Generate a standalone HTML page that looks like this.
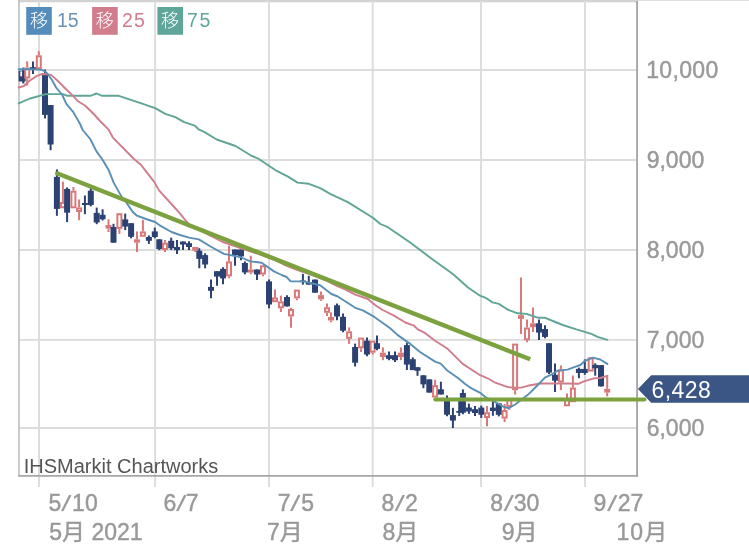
<!DOCTYPE html>
<html lang="ja">
<head>
<meta charset="utf-8">
<title>Chart</title>
<style>
html,body{margin:0;padding:0;background:#fff;}
body{width:749px;height:548px;overflow:hidden;font-family:"Liberation Sans","Noto Sans CJK JP",sans-serif;}
svg{display:block;}
text{font-family:"Liberation Sans","Noto Sans CJK JP",sans-serif;}
.ax{font-size:23px;fill:#999;stroke:#999;stroke-width:0.45px;}
.g{stroke:#dcdcdc;stroke-width:1.9;fill:none;}
</style>
</head>
<body>
<svg width="749" height="548" viewBox="0 0 749 548">
<rect x="0" y="0" width="749" height="548" fill="#fff"/>
<!-- top border -->
<rect x="18.2" y="0" width="619.8" height="2.3" fill="#d3d3d3"/>
<rect x="638" y="0" width="111" height="0.9" fill="#dcdcdc"/>
<!-- grid -->
<g class="g">
<path d="M19 70H637M19 160H637M19 250H637M19 339.9H637M19 428H637"/>
<path d="M39 1V487M155.1 1V487M269 1V487M372.7 1V487M481 1V487M585 1V487"/>
</g>
<!-- GRIDEND -->
<!-- axes -->
<path d="M19 0V475.8" stroke="#c2c2c2" stroke-width="1.7" fill="none"/>
<path d="M18.2 475.8H638" stroke="#a6a6a6" stroke-width="1.8" fill="none"/>
<path d="M637.1 1V476.7" stroke="#a6a6a6" stroke-width="1.9" fill="none"/>
<!-- y labels -->
<g class="ax">
<text x="646.2" y="77.8" textLength="72">10,000</text>
<text x="646.7" y="167.9">9,000</text>
<text x="646.7" y="257.9">8,000</text>
<text x="646.7" y="347.8">7,000</text>
<text x="646.7" y="435.9">6,000</text>
</g>
<!-- x labels -->
<g class="ax">
<text x="48.5" y="510.6">5<tspan x="61.6" rotate="11.5">/</tspan><tspan x="72.1" rotate="0">10</tspan></text>
<text x="163.5" y="510.6">6<tspan x="176.6" rotate="11.5">/</tspan><tspan x="185.8" rotate="0">7</tspan></text>
<text x="277.7" y="510.6">7<tspan x="290.6" rotate="11.5">/</tspan><tspan x="301.2" rotate="0">5</tspan></text>
<text x="381.4" y="510.6">8<tspan x="395.0" rotate="11.5">/</tspan><tspan x="404.9" rotate="0">2</tspan></text>
<text x="490.3" y="510.6">8<tspan x="503.9" rotate="11.5">/</tspan><tspan x="513.7" rotate="0">30</tspan></text>
<text x="593.4" y="510.6">9<tspan x="607.6" rotate="11.5">/</tspan><tspan x="617.7" rotate="0">27</tspan></text>
<text x="49.3" y="540">5月 2021</text>
<text x="267" y="540">7月</text>
<text x="382.5" y="540">8月</text>
<text x="501.7" y="540">9月</text>
<text x="616.4" y="540" textLength="50.8">10月</text>
</g>
<!-- watermark -->
<text x="23.7" y="472.5" font-size="20" fill="#555" textLength="194.5">IHSMarkit Chartworks</text>
<!-- legend -->
<g font-size="19.5">
<rect x="26.2" y="7" width="25.6" height="27.8" fill="#548cbc"/>
<text x="29.9" y="27.2" fill="#fff" font-weight="300" font-size="18">移</text>
<text x="57" y="26.6" fill="#6a93b5">15</text>
<rect x="92.1" y="7" width="25.6" height="27.8" fill="#d27d8c"/>
<text x="95.8" y="27.2" fill="#fff" font-weight="300" font-size="18">移</text>
<text x="121.9" y="26.6" fill="#d27d8c" textLength="23">25</text>
<rect x="157.4" y="7" width="25.6" height="27.8" fill="#5fa59a"/>
<text x="161.1" y="27.2" fill="#fff" font-weight="300" font-size="18">移</text>
<text x="187.1" y="26.6" fill="#5fa59a" textLength="23.2">75</text>
</g>

<rect x="18.6" y="70.8" width="7" height="10.7" fill="#2c4272"/>
<rect x="20.3" y="71.4" width="2" height="4.9" fill="#fff"/>
<path d="M23.3 67.6V83.5" stroke="#2c4272" stroke-width="2.2"/>
<path d="M27.2 61.3V67.6" stroke="#d97878" stroke-width="2"/>
<path d="M27.2 78.5V85.7" stroke="#d97878" stroke-width="2"/>
<rect x="25.2" y="68.6" width="4.0" height="8.9" fill="#fff" stroke="#d97878" stroke-width="2.0"/>
<path d="M33.0 61.4V74.1" stroke="#2c4272" stroke-width="2"/>
<rect x="30.0" y="67.2" width="6.0" height="1.7" fill="#2c4272"/>
<path d="M38.8 51.2V55.3" stroke="#d97878" stroke-width="2"/>
<rect x="36.8" y="56.3" width="4.0" height="12.0" fill="#fff" stroke="#d97878" stroke-width="2.0"/>
<path d="M45.0 69.4V118.5" stroke="#2c4272" stroke-width="2"/>
<rect x="42.0" y="73.2" width="6.0" height="41.7" fill="#2c4272"/>
<path d="M50.6 105.0V150.2" stroke="#2c4272" stroke-width="2"/>
<rect x="47.6" y="105.0" width="6.0" height="39.5" fill="#2c4272"/>
<path d="M56.9 169.4V215.8" stroke="#2c4272" stroke-width="2"/>
<rect x="53.9" y="176.9" width="6.0" height="32.0" fill="#2c4272"/>
<path d="M62.9 181.6V202.0" stroke="#d97878" stroke-width="2"/>
<rect x="60.9" y="203.0" width="4.0" height="4.3" fill="#fff" stroke="#d97878" stroke-width="2.0"/>
<path d="M67.1 187.4V222.1" stroke="#2c4272" stroke-width="2"/>
<rect x="64.1" y="188.9" width="6.0" height="23.8" fill="#2c4272"/>
<path d="M73.4 187.0V190.7" stroke="#d97878" stroke-width="2"/>
<rect x="71.4" y="191.7" width="4.0" height="15.6" fill="#fff" stroke="#d97878" stroke-width="2.0"/>
<path d="M79.1 199.5V207.4" stroke="#d97878" stroke-width="2"/>
<path d="M79.1 212.0V220.2" stroke="#d97878" stroke-width="2"/>
<rect x="77.1" y="208.4" width="4.0" height="2.6" fill="#fff" stroke="#d97878" stroke-width="2.0"/>
<path d="M84.9 195.5V214.2" stroke="#2c4272" stroke-width="2"/>
<rect x="81.9" y="203.0" width="6.0" height="2.0" fill="#2c4272"/>
<path d="M90.8 188.2V206.4" stroke="#2c4272" stroke-width="2"/>
<rect x="87.8" y="190.7" width="6.0" height="14.3" fill="#2c4272"/>
<path d="M96.7 207.6V224.2" stroke="#2c4272" stroke-width="2"/>
<rect x="93.7" y="212.9" width="6.0" height="9.6" fill="#2c4272"/>
<path d="M102.6 209.3V220.5" stroke="#2c4272" stroke-width="2"/>
<rect x="99.6" y="214.8" width="6.0" height="4.4" fill="#2c4272"/>
<path d="M108.5 219.3V225.0" stroke="#d97878" stroke-width="2"/>
<path d="M108.5 228.6V232.0" stroke="#d97878" stroke-width="2"/>
<rect x="105.5" y="225.0" width="6.0" height="3.6" fill="#d97878"/>
<path d="M113.5 223.8V242.7" stroke="#2c4272" stroke-width="2"/>
<rect x="110.5" y="227.0" width="6.0" height="15.7" fill="#2c4272"/>
<path d="M119.4 228.9V233.9" stroke="#d97878" stroke-width="2"/>
<rect x="117.4" y="214.2" width="4.0" height="13.7" fill="#fff" stroke="#d97878" stroke-width="2.0"/>
<path d="M125.2 213.6V230.1" stroke="#2c4272" stroke-width="2"/>
<rect x="122.2" y="219.4" width="6.0" height="7.2" fill="#2c4272"/>
<path d="M131.1 223.2V238.3" stroke="#2c4272" stroke-width="2"/>
<rect x="128.1" y="223.2" width="6.0" height="13.6" fill="#2c4272"/>
<path d="M137.0 231.6V239.3" stroke="#d97878" stroke-width="2"/>
<path d="M137.0 242.7V252.1" stroke="#d97878" stroke-width="2"/>
<rect x="134.0" y="239.3" width="6.0" height="3.4" fill="#d97878"/>
<path d="M142.9 219.8V231.4" stroke="#d97878" stroke-width="2"/>
<rect x="140.9" y="232.4" width="4.0" height="3.4" fill="#fff" stroke="#d97878" stroke-width="2.0"/>
<path d="M148.9 235.4V243.9" stroke="#2c4272" stroke-width="2"/>
<rect x="145.9" y="237.0" width="6.0" height="3.8" fill="#2c4272"/>
<path d="M154.8 227.6V238.3" stroke="#2c4272" stroke-width="2"/>
<rect x="151.8" y="231.4" width="6.0" height="5.6" fill="#2c4272"/>
<path d="M159.3 239.3V250.2" stroke="#2c4272" stroke-width="2"/>
<rect x="156.3" y="239.3" width="6.0" height="9.7" fill="#2c4272"/>
<path d="M165.0 239.9V242.7" stroke="#d97878" stroke-width="2"/>
<path d="M165.0 250.0V252.0" stroke="#d97878" stroke-width="2"/>
<rect x="163.0" y="243.7" width="4.0" height="5.3" fill="#fff" stroke="#d97878" stroke-width="2.0"/>
<path d="M171.2 237.6V250.0" stroke="#2c4272" stroke-width="2"/>
<rect x="168.2" y="240.8" width="6.0" height="7.5" fill="#2c4272"/>
<path d="M177.0 239.9V254.0" stroke="#2c4272" stroke-width="2"/>
<rect x="174.0" y="247.0" width="6.0" height="3.2" fill="#2c4272"/>
<path d="M183.0 241.5V250.0" stroke="#2c4272" stroke-width="2"/>
<rect x="180.0" y="241.5" width="6.0" height="3.0" fill="#2c4272"/>
<path d="M189.0 241.3V250.1" stroke="#2c4272" stroke-width="2"/>
<rect x="186.0" y="243.2" width="6.0" height="3.8" fill="#2c4272"/>
<path d="M195.2 250.7V252.0" stroke="#d97878" stroke-width="2"/>
<rect x="192.2" y="247.0" width="6.0" height="3.7" fill="#d97878"/>
<path d="M199.3 248.2V268.3" stroke="#2c4272" stroke-width="2"/>
<rect x="196.3" y="250.7" width="6.0" height="8.2" fill="#2c4272"/>
<path d="M205.1 253.2V268.3" stroke="#2c4272" stroke-width="2"/>
<rect x="202.1" y="255.1" width="6.0" height="9.4" fill="#2c4272"/>
<path d="M211.0 279.4V298.2" stroke="#2c4272" stroke-width="2"/>
<rect x="208.0" y="286.9" width="6.0" height="3.9" fill="#2c4272"/>
<path d="M217.0 271.2V285.8" stroke="#2c4272" stroke-width="2"/>
<rect x="214.0" y="271.2" width="6.0" height="5.4" fill="#2c4272"/>
<path d="M223.0 267.3V284.2" stroke="#2c4272" stroke-width="2"/>
<rect x="220.0" y="268.9" width="6.0" height="9.5" fill="#2c4272"/>
<path d="M229.0 245.7V261.4" stroke="#d97878" stroke-width="2"/>
<path d="M229.0 276.4V278.2" stroke="#d97878" stroke-width="2"/>
<rect x="227.0" y="262.4" width="4.0" height="13.0" fill="#fff" stroke="#d97878" stroke-width="2.0"/>
<path d="M235.0 249.5V265.8" stroke="#2c4272" stroke-width="2"/>
<rect x="232.0" y="249.5" width="6.0" height="5.6" fill="#2c4272"/>
<path d="M241.0 249.5V260.2" stroke="#2c4272" stroke-width="2"/>
<rect x="238.0" y="249.5" width="6.0" height="6.9" fill="#2c4272"/>
<path d="M244.9 261.4V274.3" stroke="#2c4272" stroke-width="2"/>
<rect x="241.9" y="263.0" width="6.0" height="9.4" fill="#2c4272"/>
<path d="M250.8 255.8V269.5" stroke="#d97878" stroke-width="2"/>
<path d="M250.8 272.6V274.3" stroke="#d97878" stroke-width="2"/>
<rect x="247.8" y="269.5" width="6.0" height="3.1" fill="#d97878"/>
<path d="M257.0 269.5V280.1" stroke="#2c4272" stroke-width="2"/>
<rect x="254.0" y="269.5" width="6.0" height="5.0" fill="#2c4272"/>
<path d="M263.0 274.5V276.2" stroke="#d97878" stroke-width="2"/>
<rect x="261.0" y="266.2" width="4.0" height="7.3" fill="#fff" stroke="#d97878" stroke-width="2.0"/>
<path d="M269.0 279.5V308.3" stroke="#2c4272" stroke-width="2"/>
<rect x="266.0" y="281.4" width="6.0" height="23.1" fill="#2c4272"/>
<path d="M275.0 289.5V297.4" stroke="#d97878" stroke-width="2"/>
<rect x="273.0" y="298.4" width="4.0" height="2.8" fill="#fff" stroke="#d97878" stroke-width="2.0"/>
<path d="M280.9 295.7V301.4" stroke="#d97878" stroke-width="2"/>
<path d="M280.9 308.3V312.0" stroke="#d97878" stroke-width="2"/>
<rect x="278.9" y="302.4" width="4.0" height="4.9" fill="#fff" stroke="#d97878" stroke-width="2.0"/>
<path d="M287.0 295.2V306.4" stroke="#2c4272" stroke-width="2"/>
<rect x="284.0" y="297.0" width="6.0" height="9.4" fill="#2c4272"/>
<path d="M291.0 307.7V309.0" stroke="#d97878" stroke-width="2"/>
<path d="M291.0 316.5V327.8" stroke="#d97878" stroke-width="2"/>
<rect x="289.0" y="310.0" width="4.0" height="5.5" fill="#fff" stroke="#d97878" stroke-width="2.0"/>
<path d="M296.9 298.4V300.3" stroke="#d97878" stroke-width="2"/>
<rect x="294.9" y="290.6" width="4.0" height="6.8" fill="#fff" stroke="#d97878" stroke-width="2.0"/>
<path d="M302.9 273.9V284.6" stroke="#2c4272" stroke-width="2"/>
<rect x="299.9" y="280.5" width="6.0" height="1.6" fill="#2c4272"/>
<path d="M308.8 275.8V284.6" stroke="#2c4272" stroke-width="2"/>
<rect x="305.8" y="282.0" width="6.0" height="2.6" fill="#2c4272"/>
<path d="M315.0 279.6V292.7" stroke="#2c4272" stroke-width="2"/>
<rect x="312.0" y="279.6" width="6.0" height="13.1" fill="#2c4272"/>
<path d="M321.0 291.5V295.1" stroke="#d97878" stroke-width="2"/>
<path d="M321.0 299.4V300.9" stroke="#d97878" stroke-width="2"/>
<rect x="318.0" y="295.1" width="6.0" height="4.3" fill="#d97878"/>
<path d="M327.0 303.4V307.2" stroke="#d97878" stroke-width="2"/>
<path d="M327.0 312.8V316.0" stroke="#d97878" stroke-width="2"/>
<rect x="325.0" y="308.2" width="4.0" height="3.6" fill="#fff" stroke="#d97878" stroke-width="2.0"/>
<path d="M331.0 312.2V317.0" stroke="#d97878" stroke-width="2"/>
<path d="M331.0 320.5V322.3" stroke="#d97878" stroke-width="2"/>
<rect x="328.0" y="317.0" width="6.0" height="3.5" fill="#d97878"/>
<path d="M337.0 303.4V320.2" stroke="#2c4272" stroke-width="2"/>
<rect x="334.0" y="305.3" width="6.0" height="11.2" fill="#2c4272"/>
<path d="M343.0 313.6V332.3" stroke="#2c4272" stroke-width="2"/>
<rect x="340.0" y="316.8" width="6.0" height="13.9" fill="#2c4272"/>
<path d="M349.1 327.4V331.3" stroke="#d97878" stroke-width="2"/>
<path d="M349.1 338.9V343.9" stroke="#d97878" stroke-width="2"/>
<rect x="347.1" y="332.3" width="4.0" height="5.6" fill="#fff" stroke="#d97878" stroke-width="2.0"/>
<path d="M355.1 343.6V366.5" stroke="#2c4272" stroke-width="2"/>
<rect x="352.1" y="347.0" width="6.0" height="15.7" fill="#2c4272"/>
<path d="M361.1 348.3V352.0" stroke="#d97878" stroke-width="2"/>
<rect x="359.1" y="338.6" width="4.0" height="8.7" fill="#fff" stroke="#d97878" stroke-width="2.0"/>
<path d="M367.0 337.6V356.2" stroke="#2c4272" stroke-width="2"/>
<rect x="364.0" y="340.7" width="6.0" height="13.8" fill="#2c4272"/>
<path d="M372.6 352.7V354.5" stroke="#d97878" stroke-width="2"/>
<rect x="370.6" y="341.7" width="4.0" height="10.0" fill="#fff" stroke="#d97878" stroke-width="2.0"/>
<path d="M377.0 335.5V350.2" stroke="#2c4272" stroke-width="2"/>
<rect x="374.0" y="343.2" width="6.0" height="5.7" fill="#2c4272"/>
<path d="M382.9 347.4V352.7" stroke="#d97878" stroke-width="2"/>
<path d="M382.9 357.0V360.2" stroke="#d97878" stroke-width="2"/>
<rect x="379.9" y="352.7" width="6.0" height="4.3" fill="#d97878"/>
<path d="M389.0 351.4V360.2" stroke="#2c4272" stroke-width="2"/>
<rect x="386.0" y="355.2" width="6.0" height="3.7" fill="#2c4272"/>
<path d="M395.0 351.4V362.0" stroke="#2c4272" stroke-width="2"/>
<rect x="392.0" y="355.2" width="6.0" height="5.0" fill="#2c4272"/>
<path d="M400.9 347.4V352.7" stroke="#d97878" stroke-width="2"/>
<path d="M400.9 357.0V360.2" stroke="#d97878" stroke-width="2"/>
<rect x="397.9" y="352.7" width="6.0" height="4.3" fill="#d97878"/>
<path d="M406.9 342.6V370.0" stroke="#2c4272" stroke-width="2"/>
<rect x="403.9" y="345.1" width="6.0" height="19.5" fill="#2c4272"/>
<path d="M412.8 357.4V370.1" stroke="#2c4272" stroke-width="2"/>
<rect x="409.8" y="359.2" width="6.0" height="10.9" fill="#2c4272"/>
<path d="M417.5 367.2V375.8" stroke="#2c4272" stroke-width="2"/>
<rect x="414.5" y="367.2" width="6.0" height="3.6" fill="#2c4272"/>
<path d="M423.4 375.3V388.2" stroke="#2c4272" stroke-width="2"/>
<rect x="420.4" y="375.3" width="6.0" height="9.1" fill="#2c4272"/>
<path d="M429.3 379.4V392.6" stroke="#2c4272" stroke-width="2"/>
<rect x="426.3" y="379.4" width="6.0" height="13.2" fill="#2c4272"/>
<path d="M435.1 379.8V385.1" stroke="#d97878" stroke-width="2"/>
<rect x="433.1" y="386.1" width="4.0" height="10.5" fill="#fff" stroke="#d97878" stroke-width="2.0"/>
<path d="M440.9 381.7V394.5" stroke="#2c4272" stroke-width="2"/>
<rect x="437.9" y="389.3" width="6.0" height="5.2" fill="#2c4272"/>
<path d="M447.0 395.4V416.3" stroke="#2c4272" stroke-width="2"/>
<rect x="444.0" y="398.0" width="6.0" height="16.7" fill="#2c4272"/>
<path d="M452.9 407.8V428.0" stroke="#2c4272" stroke-width="2"/>
<rect x="449.9" y="415.1" width="6.0" height="5.5" fill="#2c4272"/>
<path d="M459.2 398.0V415.9" stroke="#2c4272" stroke-width="2"/>
<rect x="456.2" y="411.0" width="6.0" height="1.7" fill="#2c4272"/>
<path d="M462.9 389.4V414.3" stroke="#2c4272" stroke-width="2"/>
<rect x="459.9" y="393.0" width="6.0" height="19.7" fill="#2c4272"/>
<path d="M468.9 403.6V413.9" stroke="#2c4272" stroke-width="2"/>
<rect x="465.9" y="407.5" width="6.0" height="4.0" fill="#2c4272"/>
<path d="M475.0 406.0V416.0" stroke="#2c4272" stroke-width="2"/>
<rect x="472.0" y="409.2" width="6.0" height="3.8" fill="#2c4272"/>
<path d="M481.3 405.6V418.0" stroke="#2c4272" stroke-width="2"/>
<rect x="478.3" y="407.6" width="6.0" height="7.1" fill="#2c4272"/>
<path d="M487.0 405.9V412.2" stroke="#d97878" stroke-width="2"/>
<path d="M487.0 418.0V426.2" stroke="#d97878" stroke-width="2"/>
<rect x="485.0" y="413.2" width="4.0" height="3.8" fill="#fff" stroke="#d97878" stroke-width="2.0"/>
<path d="M492.9 401.5V415.8" stroke="#2c4272" stroke-width="2"/>
<rect x="489.9" y="407.6" width="6.0" height="3.4" fill="#2c4272"/>
<path d="M498.8 403.3V416.4" stroke="#2c4272" stroke-width="2"/>
<rect x="495.8" y="403.3" width="6.0" height="11.5" fill="#2c4272"/>
<path d="M504.6 403.9V410.0" stroke="#d97878" stroke-width="2"/>
<path d="M504.6 418.6V422.1" stroke="#d97878" stroke-width="2"/>
<rect x="502.6" y="411.0" width="4.0" height="6.6" fill="#fff" stroke="#d97878" stroke-width="2.0"/>
<path d="M509.3 398.0V398.5" stroke="#d97878" stroke-width="2"/>
<path d="M509.3 407.0V409.8" stroke="#d97878" stroke-width="2"/>
<rect x="507.3" y="399.5" width="4.0" height="6.5" fill="#fff" stroke="#d97878" stroke-width="2.0"/>
<path d="M515.1 390.2V394.5" stroke="#d97878" stroke-width="2"/>
<rect x="513.1" y="344.6" width="4.0" height="44.6" fill="#fff" stroke="#d97878" stroke-width="2.0"/>
<path d="M521.0 277.5V315.2" stroke="#d97878" stroke-width="2"/>
<path d="M521.0 318.9V334.0" stroke="#d97878" stroke-width="2"/>
<rect x="518.0" y="315.2" width="6.0" height="3.7" fill="#d97878"/>
<path d="M527.0 319.6V327.5" stroke="#d97878" stroke-width="2"/>
<path d="M527.0 340.3V342.3" stroke="#d97878" stroke-width="2"/>
<rect x="525.0" y="328.5" width="4.0" height="10.8" fill="#fff" stroke="#d97878" stroke-width="2.0"/>
<path d="M533.0 307.4V323.3" stroke="#d97878" stroke-width="2"/>
<path d="M533.0 327.1V332.0" stroke="#d97878" stroke-width="2"/>
<rect x="530.0" y="323.3" width="6.0" height="3.8" fill="#d97878"/>
<path d="M539.0 319.6V340.0" stroke="#2c4272" stroke-width="2"/>
<rect x="536.0" y="323.3" width="6.0" height="9.3" fill="#2c4272"/>
<path d="M545.0 325.2V338.2" stroke="#2c4272" stroke-width="2"/>
<rect x="542.0" y="329.0" width="6.0" height="7.9" fill="#2c4272"/>
<path d="M549.0 343.2V373.9" stroke="#2c4272" stroke-width="2"/>
<rect x="546.0" y="343.2" width="6.0" height="29.4" fill="#2c4272"/>
<path d="M555.0 363.6V392.0" stroke="#2c4272" stroke-width="2"/>
<rect x="552.0" y="374.8" width="6.0" height="5.9" fill="#2c4272"/>
<path d="M560.9 365.4V369.4" stroke="#d97878" stroke-width="2"/>
<path d="M560.9 382.4V390.1" stroke="#d97878" stroke-width="2"/>
<rect x="558.9" y="370.4" width="4.0" height="11.0" fill="#fff" stroke="#d97878" stroke-width="2.0"/>
<path d="M567.0 393.6V398.3" stroke="#d97878" stroke-width="2"/>
<rect x="565.0" y="399.3" width="4.0" height="6.0" fill="#fff" stroke="#d97878" stroke-width="2.0"/>
<path d="M572.9 375.5V387.5" stroke="#d97878" stroke-width="2"/>
<rect x="570.9" y="388.5" width="4.0" height="12.7" fill="#fff" stroke="#d97878" stroke-width="2.0"/>
<path d="M578.9 367.6V378.2" stroke="#2c4272" stroke-width="2"/>
<rect x="575.9" y="368.9" width="6.0" height="4.1" fill="#2c4272"/>
<path d="M584.8 359.4V374.8" stroke="#2c4272" stroke-width="2"/>
<rect x="581.8" y="368.9" width="6.0" height="4.1" fill="#2c4272"/>
<rect x="588.7" y="358.3" width="4.0" height="12.3" fill="#fff" stroke="#d97878" stroke-width="2.0"/>
<path d="M595.2 363.3V375.7" stroke="#2c4272" stroke-width="2"/>
<rect x="592.2" y="364.9" width="6.0" height="3.3" fill="#2c4272"/>
<path d="M601.0 365.1V386.4" stroke="#2c4272" stroke-width="2"/>
<rect x="598.0" y="365.1" width="6.0" height="21.3" fill="#2c4272"/>
<path d="M607.2 375.4V388.9" stroke="#d97878" stroke-width="2"/>
<path d="M607.2 392.6V396.4" stroke="#d97878" stroke-width="2"/>
<rect x="604.2" y="388.9" width="6.0" height="3.7" fill="#d97878"/>
<g fill="none" stroke-width="1.9" stroke-linejoin="round" stroke-linecap="round">
<path d="M18.6 103.4 L30.0 98.5 L45.0 94.3 L50.0 94.1 L62.9 94.1 L66.9 95.7 L91.0 95.7 L93.8 94.5 L96.6 93.5 L99.8 94.9 L102.2 95.8 L118.8 95.8 L137.7 102.1 L155.2 108.1 L165.3 113.9 L175.3 117.1 L184.1 122.1 L194.9 125.7 L199.1 129.7 L204.2 131.9 L216.7 139.5 L235.5 146.0 L250.6 155.3 L258.1 158.5 L275.7 170.3 L288.0 176.6 L297.6 182.6 L308.9 183.8 L320.2 188.1 L330.2 193.9 L347.8 202.1 L372.9 217.7 L380.4 224.0 L387.9 227.2 L410.5 242.8 L430.6 257.9 L453.2 274.2 L468.0 287.5 L480.0 295.7 L486.3 298.2 L492.5 302.4 L498.8 303.9 L507.6 309.5 L517.6 313.3 L526.4 313.9 L537.7 317.7 L544.6 317.7 L555.3 322.0 L562.8 325.0 L576.3 329.4 L591.4 333.8 L597.6 336.9 L607.4 339.8" stroke="#5fa596"/>
<path d="M18.6 87.5 L24.0 86.0 L27.5 82.5 L31.0 79.7 L36.7 76.1 L41.5 74.2 L44.7 74.0 L51.1 74.9 L56.8 80.0 L66.1 89.2 L73.3 96.1 L78.1 101.3 L85.3 105.7 L94.2 114.5 L100.0 121.0 L108.6 129.6 L112.7 137.3 L134.0 159.0 L141.4 165.3 L154.0 181.6 L159.0 190.4 L167.8 200.0 L172.8 205.5 L180.3 213.8 L186.0 221.0 L190.0 225.5 L200.0 230.5 L208.9 235.0 L222.7 242.0 L230.2 244.5 L247.8 250.7 L262.0 255.0 L274.0 259.5 L285.0 265.2 L297.5 270.0 L306.0 272.8 L315.0 276.0 L325.0 280.0 L335.2 285.2 L345.0 289.4 L355.3 294.6 L367.8 299.0 L375.3 305.3 L382.7 310.0 L394.0 315.6 L405.3 322.5 L414.0 325.7 L417.8 329.4 L425.3 333.2 L435.1 340.7 L447.6 348.8 L462.7 363.9 L480.2 375.2 L487.8 378.3 L495.3 382.7 L507.8 387.1 L514.0 387.7 L521.4 387.6 L527.6 385.8 L540.2 383.5 L567.8 383.5 L578.8 383.7 L584.0 381.4 L593.9 378.3 L600.2 378.0 L607.4 375.8" stroke="#cf7d8c"/>
</g>
<g fill="none" stroke-width="1.9" stroke-linejoin="round" stroke-linecap="round">
<path d="M18.6 69.3 L31.0 69.1 L41.5 69.9 L45.1 71.3 L47.1 73.3 L52.0 80.0 L56.4 88.0 L62.0 94.5 L66.5 104.1 L73.3 112.1 L80.1 124.0 L82.7 130.0 L90.2 139.0 L96.5 151.4 L102.7 160.0 L108.8 170.3 L113.8 182.9 L122.8 198.9 L125.1 200.6 L132.8 212.0 L137.0 215.7 L146.0 219.0 L155.2 222.0 L160.2 225.7 L171.5 232.0 L180.0 235.0 L189.0 237.6 L198.8 239.4 L211.4 247.0 L223.9 253.9 L240.2 257.0 L250.3 261.4 L261.6 262.7 L274.0 271.4 L281.6 275.0 L286.6 277.0 L290.6 281.4 L303.8 281.4 L320.1 285.2 L331.4 294.0 L337.7 296.5 L355.3 307.8 L362.8 310.3 L372.6 315.8 L390.2 328.2 L397.7 335.1 L410.3 343.9 L420.0 352.0 L435.1 361.6 L440.7 363.6 L447.6 370.8 L457.6 377.7 L465.2 384.0 L470.2 387.6 L480.2 392.8 L485.3 397.0 L496.3 402.6 L503.0 406.5 L508.8 408.3 L515.1 404.5 L527.6 395.1 L537.8 385.0 L545.2 377.3 L550.2 375.2 L557.8 370.6 L567.5 369.6 L576.3 366.4 L580.3 365.0 L585.1 360.8 L592.6 357.6 L600.2 359.5 L607.4 363.9" stroke="#5a8fb5"/>
</g>
<path d="M57 173.3L530.2 359.3" stroke="#7ba23f" stroke-width="4.4" fill="none"/>
<circle cx="57.2" cy="173.4" r="2.2" fill="#7ba23f"/>
<path d="M435.3 399.5H644.4" stroke="#7ba23f" stroke-width="4.1" fill="none" stroke-linecap="round"/>
<!-- price tag -->
<path d="M637.9 388.9L651.2 375.2H749V402.8H651.2Z" fill="#3b5585"/>
<text x="651.5" y="397.6" font-size="23" fill="#fff" textLength="59.2">6,428</text>
</svg>
</body>
</html>
